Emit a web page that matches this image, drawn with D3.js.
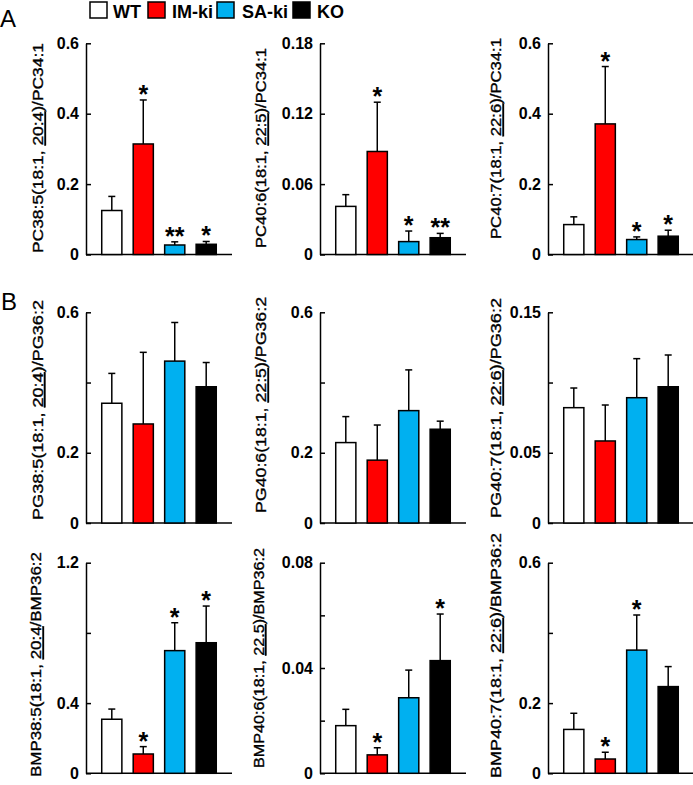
<!DOCTYPE html>
<html>
<head>
<meta charset="utf-8">
<script src="https://cdn.jsdelivr.net/npm/d3@7"></script>
<style>
  html, body { margin: 0; padding: 0; background: #fff; }
  svg { display: block; }
</style>
</head>
<body>
<script>
// ---------------- DATA ----------------
const categories = ["WT", "IM-ki", "SA-ki", "KO"];
const colors = ["#ffffff", "#ff0000", "#00b0f0", "#000000"];

// Panel A (PC ratios)
const pc385Means = [0.125, 0.314, 0.027, 0.029];
const pc385Sem   = [0.040, 0.125, 0.009, 0.008];
const pc385Stars = ["", "*", "**", "*"];
const pc385Ticks = [0, 0.2, 0.4, 0.6];
const pc385TickLabels = ["0", "0.2", "0.4", "0.6"];

const pc406Means = [0.041, 0.0878, 0.011, 0.0143];
const pc406Sem   = [0.010, 0.042, 0.009, 0.0037];
const pc406Stars = ["", "*", "*", "**"];
const pc406Ticks = [0, 0.06, 0.12, 0.18];
const pc406TickLabels = ["0", "0.06", "0.12", "0.18"];

const pc407Means = [0.085, 0.371, 0.0425, 0.052];
const pc407Sem   = [0.022, 0.163, 0.0075, 0.017];
const pc407Stars = ["", "*", "*", "*"];
const pc407Ticks = [0, 0.2, 0.4, 0.6];
const pc407TickLabels = ["0", "0.2", "0.4", "0.6"];

// Panel B (PG ratios)
const pg385Means = [0.341, 0.282, 0.461, 0.388];
const pg385Sem   = [0.085, 0.204, 0.110, 0.069];
const pg385Stars = ["", "", "", ""];
const pg385Ticks = [0, 0.2, 0.4, 0.6];
const pg385TickLabels = ["0", "0.2", "", "0.6"];

const pg406Means = [0.229, 0.179, 0.320, 0.267];
const pg406Sem   = [0.074, 0.100, 0.116, 0.023];
const pg406Stars = ["", "", "", ""];
const pg406Ticks = [0, 0.2, 0.4, 0.6];
const pg406TickLabels = ["0", "0.2", "", "0.6"];

const pg407Means = [0.0821, 0.0584, 0.0892, 0.097];
const pg407Sem   = [0.014, 0.0256, 0.0278, 0.0226];
const pg407Stars = ["", "", "", ""];
const pg407Ticks = [0, 0.05, 0.1, 0.15];
const pg407TickLabels = ["0", "0.05", "", "0.15"];

// Panel B (BMP ratios)
const bmp385Means = [0.308, 0.110, 0.699, 0.744];
const bmp385Sem   = [0.058, 0.042, 0.159, 0.209];
const bmp385Stars = ["", "*", "*", "*"];
const bmp385Ticks = [0, 0.4, 0.8, 1.2];
const bmp385TickLabels = ["0", "0.4", "", "1.2"];

const bmp406Means = [0.0181, 0.0070, 0.0287, 0.0428];
const bmp406Sem   = [0.0062, 0.0027, 0.0105, 0.0177];
const bmp406Stars = ["", "*", "", "*"];
const bmp406Ticks = [0, 0.02, 0.04, 0.06, 0.08];
const bmp406TickLabels = ["0", "", "0.04", "", "0.08"];

const bmp407Means = [0.125, 0.0407, 0.351, 0.247];
const bmp407Sem   = [0.046, 0.0193, 0.100, 0.057];
const bmp407Stars = ["", "*", "*", ""];
const bmp407Ticks = [0, 0.2, 0.4, 0.6];
const bmp407TickLabels = ["0", "0.2", "", "0.6"];

// Axis titles: [text, underlined]
const titles = [
  [["PC38:5(18:1, ", false], ["20:4", true], [")/PC34:1", false]],
  [["PC40:6(18:1, ", false], ["22:5", true], [")/PC34:1", false]],
  [["PC40:7(18:1, ", false], ["22:6", true], [")/PC34:1", false]],
  [["PG38:5(18:1, ", false], ["20:4", true], [")/PG36:2", false]],
  [["PG40:6(18:1, ", false], ["22:5", true], [")/PG36:2", false]],
  [["PG40:7(18:1, ", false], ["22:6", true], [")/PG36:2", false]],
  [["BMP38:5(18:1, ", false], ["20:4", true], ["/BMP36:2", false]],
  [["BMP40:6(18:1, ", false], ["22.5", true], [")/BMP36:2", false]],
  [["BMP40:7(18:1, ", false], ["22:6", true], [")/BMP36:2", false]]
];

const panels = [
  {means: pc385Means, sem: pc385Sem, stars: pc385Stars, ticks: pc385Ticks, labels: pc385TickLabels},
  {means: pc406Means, sem: pc406Sem, stars: pc406Stars, ticks: pc406Ticks, labels: pc406TickLabels},
  {means: pc407Means, sem: pc407Sem, stars: pc407Stars, ticks: pc407Ticks, labels: pc407TickLabels},
  {means: pg385Means, sem: pg385Sem, stars: pg385Stars, ticks: pg385Ticks, labels: pg385TickLabels},
  {means: pg406Means, sem: pg406Sem, stars: pg406Stars, ticks: pg406Ticks, labels: pg406TickLabels},
  {means: pg407Means, sem: pg407Sem, stars: pg407Stars, ticks: pg407Ticks, labels: pg407TickLabels},
  {means: bmp385Means, sem: bmp385Sem, stars: bmp385Stars, ticks: bmp385Ticks, labels: bmp385TickLabels},
  {means: bmp406Means, sem: bmp406Sem, stars: bmp406Stars, ticks: bmp406Ticks, labels: bmp406TickLabels},
  {means: bmp407Means, sem: bmp407Sem, stars: bmp407Stars, ticks: bmp407Ticks, labels: bmp407TickLabels}
];

// ---------------- LAYOUT ----------------
const W = 693, H = 785;
const colAxisX = [86, 320, 548];
const xLen = 146;
const rowBase = [254.5, 523, 773.3];
const rowTop = [43.3, 312.3, 562.7];
const titleX = [[38, 261, 496], [37.5, 261, 496], [36, 258.5, 496]];
const titleCY = [[148, 148, 138.5], [410, 405, 408], [664.5, 658, 655.5]];
const titleLen = [[210, 200, 201], [220, 216, 220], [225, 220, 245]];

const svg = d3.select("body").append("svg")
  .attr("width", W).attr("height", H)
  .style("font-family", "'Liberation Sans', Arial, sans-serif");

// Panel letters
svg.append("text").attr("x", 0).attr("y", 27).attr("font-size", 24).text("A");
svg.append("text").attr("x", 1).attr("y", 310).attr("font-size", 24).text("B");

// Legend
const legBoxX = [90, 148, 217, 293];
const legTextX = [113, 172, 242, 317];
const leg = svg.append("g");
categories.forEach((c, i) => {
  leg.append("rect").attr("x", legBoxX[i]).attr("y", 2).attr("width", 17).attr("height", 16)
    .attr("fill", colors[i]).attr("stroke", "#000").attr("stroke-width", 1.5);
  leg.append("text").attr("x", legTextX[i]).attr("y", 17.5)
    .attr("font-size", 18).attr("font-weight", "bold").text(c);
});

panels.forEach((p, idx) => {
  const r = Math.floor(idx / 3), c = idx % 3;
  const ax = colAxisX[c];
  const y = d3.scaleLinear()
    .domain([0, p.ticks[p.ticks.length - 1]])
    .range([rowBase[r], rowTop[r]]);
  const x = d3.scaleBand().domain(categories)
    .range([ax, ax + xLen]).paddingInner(0.36).paddingOuter(0.5);

  const g = svg.append("g");

  // y axis
  const yAxis = d3.axisLeft(y)
    .tickValues(p.ticks)
    .tickFormat((d, i) => p.labels[i])
    .tickSizeInner(-5).tickSizeOuter(0).tickPadding(7);
  const ag = g.append("g").attr("transform", `translate(${ax},0)`).call(yAxis);
  ag.select(".domain").attr("stroke", "#000").attr("stroke-width", 1.5);
  ag.selectAll(".tick line").attr("stroke", "#000").attr("stroke-width", 1.5);
  ag.selectAll(".tick text")
    .attr("font-size", 16).attr("font-weight", "bold")
    .attr("font-family", "'Liberation Sans', Arial, sans-serif")
    .attr("fill", "#000");

  // x axis line
  g.append("line")
    .attr("x1", ax).attr("x2", ax + xLen)
    .attr("y1", y(0)).attr("y2", y(0))
    .attr("stroke", "#000").attr("stroke-width", 1.5);

  // error bars
  categories.forEach((cat, i) => {
    const cx = x(cat) + x.bandwidth() / 2;
    const top = y(p.means[i] + p.sem[i]);
    g.append("line").attr("x1", cx).attr("x2", cx)
      .attr("y1", y(p.means[i])).attr("y2", top)
      .attr("stroke", "#000").attr("stroke-width", 1.5);
    g.append("line").attr("x1", cx - 3.5).attr("x2", cx + 3.5)
      .attr("y1", top).attr("y2", top)
      .attr("stroke", "#000").attr("stroke-width", 1.5);
    if (p.stars[i]) {
      g.append("text").attr("x", cx).attr("y", top + 3)
        .attr("text-anchor", "middle").attr("font-size", 25).attr("font-weight", "bold")
        .text(p.stars[i]);
    }
  });

  // bars
  g.selectAll("rect.bar").data(p.means).join("rect")
    .attr("class", "bar")
    .attr("x", (d, i) => x(categories[i]))
    .attr("width", x.bandwidth())
    .attr("y", d => y(d))
    .attr("height", d => y(0) - y(d))
    .attr("fill", (d, i) => colors[i])
    .attr("stroke", "#000").attr("stroke-width", 1.5);

  // axis title
  const tx = titleX[r][c], ty = titleCY[r][c];
  const t = g.append("text")
    .attr("transform", `translate(${tx},${ty}) rotate(-90)`)
    .attr("text-anchor", "middle")
    .attr("dy", "0.35em")
    .attr("font-size", 15.5)
    .attr("fill", "#000")
    .attr("stroke", "#000").attr("stroke-width", 0.35)
    .attr("textLength", titleLen[r][c])
    .attr("lengthAdjust", "spacingAndGlyphs");
  titles[idx].forEach(([s, u]) => {
    const ts = t.append("tspan").text(s);
    if (u) ts.attr("text-decoration", "underline");
  });
});
</script>
</body>
</html>
